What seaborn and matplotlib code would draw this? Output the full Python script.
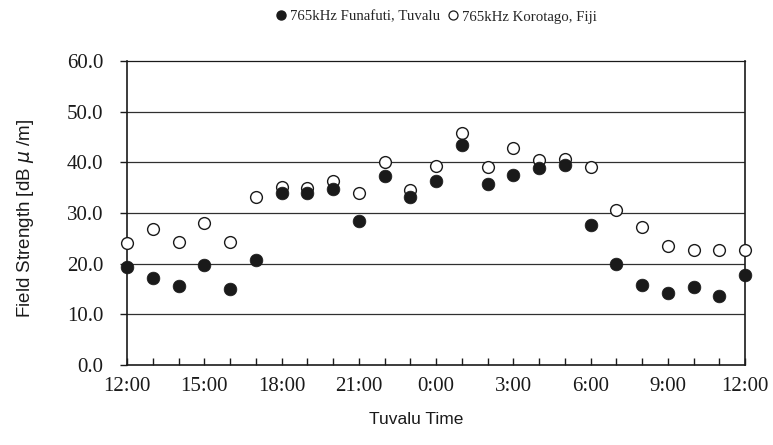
import matplotlib
matplotlib.use("Agg")
import matplotlib.pyplot as plt
import seaborn as sns
import pandas as pd
from matplotlib.ticker import MultipleLocator, FixedLocator
from matplotlib.lines import Line2D

# Hours elapsed since 12:00 Tuvalu time (hourly readings over one day)
hours = list(range(25))
tick_hours = [0, 3, 6, 9, 12, 15, 18, 21, 24]
tick_labels = ["12:00", "15:00", "18:00", "21:00", "0:00", "3:00", "6:00", "9:00", "12:00"]

# Field strength [dB uV/m]
funafuti = [19.4, 17.1, 15.6, 19.8, 15.0, 20.8, 34.0, 34.0, 34.8, 28.5, 37.3, 33.1, 36.4,
            43.5, 35.8, 37.5, 38.9, 39.5, 27.6, 19.9, 15.7, 14.2, 15.4, 13.7, 17.8]
korotago = [24.0, 26.9, 24.2, 28.0, 24.2, 33.1, 35.2, 34.9, 36.4, 34.0, 40.0, 34.5, 39.3,
            45.8, 39.1, 42.9, 40.4, 40.7, 39.1, 30.6, 27.2, 23.5, 22.7, 22.7, 22.7]

label_funafuti = "765kHz Funafuti, Tuvalu"
label_korotago = "765kHz Korotago, Fiji"

df = pd.DataFrame({
    "hour": hours * 2,
    "value": funafuti + korotago,
    "station": [label_funafuti] * len(hours) + [label_korotago] * len(hours),
})

sns.set_style("white")
serif = "Liberation Serif"
sans = "Liberation Sans"

fig = plt.figure(figsize=(7.73, 4.45), dpi=100)
ax = fig.add_axes([0.1643, 0.1798, 0.7995, 0.6832])

# horizontal gridlines behind the markers
for yv in range(10, 60, 10):
    ax.axhline(yv, color="#303030", lw=0.9, zorder=0)

sns.scatterplot(data=df[df.station == label_korotago], x="hour", y="value", ax=ax,
                marker="o", s=72, facecolor="white", edgecolor="#1a1a1a",
                linewidth=1.0, zorder=3, legend=False, clip_on=False)
sns.scatterplot(data=df[df.station == label_funafuti], x="hour", y="value", ax=ax,
                marker="o", s=84, color="#1a1a1a", edgecolor="#1a1a1a",
                linewidth=0.5, zorder=4, legend=False, clip_on=False)

ax.set_xlim(0, 24)
ax.set_ylim(0, 60)

ax.xaxis.set_major_locator(FixedLocator(tick_hours))
ax.xaxis.set_minor_locator(MultipleLocator(1))
ax.set_xticklabels(tick_labels, fontfamily=serif, fontsize=15, color="#1a1a1a")
ax.tick_params(axis="x", which="both", direction="in", length=5, width=1,
               color="#1a1a1a", pad=9, bottom=True)

ax.set_yticks(range(0, 61, 10))
ax.set_yticklabels([f"{v:.1f}" for v in range(0, 61, 10)], fontfamily=serif,
                   fontsize=15, color="#1a1a1a")
ax.tick_params(axis="y", which="major", direction="out", length=5, width=1,
               color="#1a1a1a", pad=12, left=True)

for side in ["left", "bottom", "right", "top"]:
    ax.spines[side].set_visible(True)
    ax.spines[side].set_color("#1a1a1a")
    ax.spines[side].set_linewidth(1.2)
ax.spines["top"].set_linewidth(0.9)

ax.set_xlabel("Tuvalu Time", fontfamily=sans, fontsize=12.5, color="#1a1a1a")
ax.xaxis.set_label_coords((416 - 127) / 618, -(412 - 365) / 304, transform=ax.transAxes)
ax.set_ylabel("Field Strength [dB $\\mu$ /m]", fontfamily=sans, fontsize=13.5,
              color="#1a1a1a")
ax.yaxis.set_label_coords(-(127 - 36) / 618, (365 - 218) / 304, transform=ax.transAxes)

handles = [
    Line2D([], [], marker="o", ls="none", markersize=6.5, markerfacecolor="#1a1a1a",
           markeredgecolor="#1a1a1a"),
    Line2D([], [], marker="o", ls="none", markersize=6.5, markerfacecolor="white",
           markeredgecolor="#1a1a1a", markeredgewidth=0.9),
]
fig.legend(handles, [label_funafuti, label_korotago], loc="center",
           bbox_to_anchor=(0.563, 0.962), ncol=2, frameon=False,
           prop={"family": serif, "size": 10.7}, handletextpad=0.1,
           columnspacing=0.4, handlelength=1.0, borderaxespad=0)

fig.savefig("out.png", dpi=100, facecolor="white")
